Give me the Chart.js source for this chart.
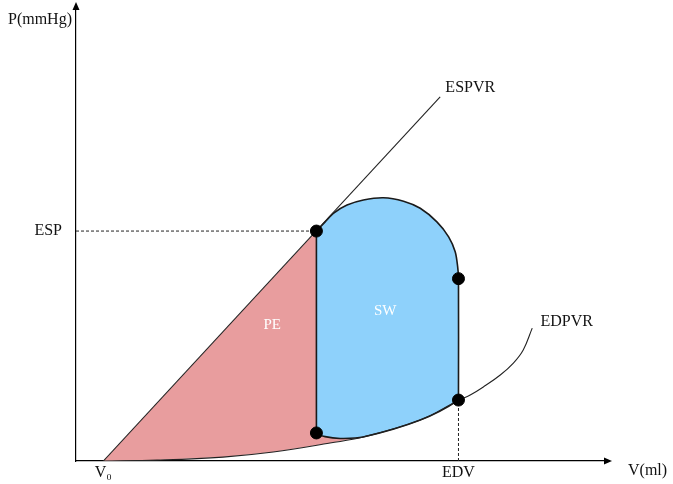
<!DOCTYPE html>
<html>
<head>
<meta charset="utf-8">
<script src="https://cdn.jsdelivr.net/npm/chart.js@4.4.1/dist/chart.umd.min.js"></script>
<style>
  html, body { margin: 0; padding: 0; background: #fff; }
</style>
</head>
<body>
<canvas id="pvLoop" width="673" height="484"></canvas>
<script>
// volume (ml) and pressure (mmHg)
var V0 = 10, ESV = 88, EDV = 140, ESP = 100;

var espvrV = [10, 133.3];
var espvrP = [0, 158.3];

var edpvrV = [10, 29.7, 53.8, 72.2, 93.0, 105.1, 126.0, 139.9, 144.3, 149.1, 155.3, 160.1, 163.7, 167.0];
var edpvrP = [0, 0.4, 1.7, 3.9, 7.8, 10.4, 17.8, 26.3, 28.7, 32.2, 37.4, 42.6, 48.3, 57.8];

var loopV = [88, 91.2, 94.2, 99.2, 105.2, 112.5, 119.9, 126.0, 132.1, 136.4, 138.8, 139.7, 140, 140, 140, 126.0, 105.1, 96.7, 91.2, 88, 88, 88];
var loopP = [100, 104.0, 107.7, 111.3, 113.5, 114.5, 113.0, 109.9, 104.0, 97.5, 91.0, 84.5, 79.3, 29.0, 26.5, 17.8, 10.4, 9.8, 10.6, 12.2, 15.0, 100];

var peV = [10, 88, 88, 91.2, 96.7, 105.1, 93.0, 72.2, 53.8, 29.7, 10];
var peP = [0, 100, 12.2, 10.6, 9.8, 10.4, 7.8, 3.9, 1.7, 0.4, 0];

var dotV = [88, 140, 140, 88];
var dotP = [100, 79.3, 26.5, 12.2];

var xTickValues = [V0, EDV];
var xTickLabels = ['V\u2080', 'EDV'];
var yTickValues = [ESP];
var yTickLabels = ['ESP'];

var noteText = ['ESPVR', 'EDPVR', 'PE', 'SW'];
var noteV = [135.2, 170, 71.8, 113.2];
var noteP = [162.2, 60.4, 59.1, 65.2];

var serif = '"Liberation Serif", "Times New Roman", serif';

function pts(xs, ys) {
  return xs.map(function (v, i) { return {x: v, y: ys[i]}; });
}

// arrows, axis names and the curve/area labels
var overlay = {
  id: 'overlay',
  afterDraw: function (chart) {
    var c = chart.ctx, a = chart.chartArea;
    var sx = chart.scales.x, sy = chart.scales.y;
    c.save();
    c.fillStyle = '#000';
    c.beginPath();
    c.moveTo(a.left, a.top - 6);
    c.lineTo(a.left - 3.5, a.top + 2);
    c.lineTo(a.left + 3.5, a.top + 2);
    c.closePath();
    c.fill();
    c.beginPath();
    c.moveTo(a.right + 6, a.bottom);
    c.lineTo(a.right - 2, a.bottom - 3.5);
    c.lineTo(a.right - 2, a.bottom + 3.5);
    c.closePath();
    c.fill();

    c.font = '16px ' + serif;
    c.fillStyle = '#111';
    c.textBaseline = 'middle';
    c.textAlign = 'right';
    c.fillText('P(mmHg)', a.left - 4, 20);
    c.textAlign = 'left';
    c.fillText('V(ml)', a.right + 22, a.bottom + 10);

    for (var i = 0; i < noteText.length; i++) {
      var inside = i >= 2;
      c.fillStyle = inside ? '#fff' : '#111';
      c.font = (inside ? '15px ' : '16px ') + serif;
      c.textAlign = inside ? 'center' : 'left';
      c.fillText(noteText[i], sx.getPixelForValue(noteV[i]), sy.getPixelForValue(noteP[i]));
    }
    c.restore();
  }
};

var ctx = document.getElementById('pvLoop').getContext('2d');
var pvChart = new Chart(ctx, {
  type: 'scatter',
  data: {
    datasets: [
      {
        label: 'points',
        data: pts(dotV, dotP),
        pointRadius: 6,
        backgroundColor: '#000',
        borderColor: '#000',
        order: 0
      },
      {
        label: 'ESPVR',
        data: pts(espvrV, espvrP),
        showLine: true,
        borderColor: '#222',
        borderWidth: 1.1,
        pointRadius: 0,
        order: 1
      },
      {
        label: 'EDPVR',
        data: pts(edpvrV, edpvrP),
        showLine: true,
        tension: 0.4,
        borderColor: '#222',
        borderWidth: 1.1,
        pointRadius: 0,
        order: 1
      },
      {
        label: 'ESP',
        data: pts([0, ESV], [ESP, ESP]),
        showLine: true,
        borderColor: '#222',
        borderWidth: 1,
        borderDash: [3, 2],
        pointRadius: 0,
        order: 1
      },
      {
        label: 'EDV',
        data: pts([EDV, EDV], [0, 26.5]),
        showLine: true,
        borderColor: '#222',
        borderWidth: 1,
        borderDash: [3, 2],
        pointRadius: 0,
        order: 1
      },
      {
        label: 'SW',
        data: pts(loopV, loopP),
        showLine: true,
        tension: 0.3,
        fill: 'shape',
        backgroundColor: '#8ED1FB',
        borderColor: '#1a1a1a',
        borderWidth: 1.6,
        pointRadius: 0,
        order: 2
      },
      {
        label: 'PE',
        data: pts(peV, peP),
        showLine: true,
        fill: 'shape',
        backgroundColor: '#E89D9E',
        borderWidth: 0,
        borderColor: 'rgba(0,0,0,0)',
        pointRadius: 0,
        order: 3
      }
    ]
  },
  options: {
    responsive: false,
    animation: false,
    layout: { autoPadding: false, padding: { top: 8, right: 67, bottom: 0, left: 0 } },
    plugins: { legend: { display: false }, tooltip: { enabled: false } },
    scales: {
      x: {
        type: 'linear',
        min: 0,
        max: 194,
        grid: { display: false, drawTicks: false },
        border: { display: true, color: '#000', width: 1.2 },
        afterBuildTicks: function (s) { s.ticks = xTickValues.map(function (v) { return {value: v}; }); },
        afterFit: function (s) { s.height = 23; s.paddingLeft = 0; s.paddingRight = 0; },
        ticks: {
          autoSkip: false,
          maxRotation: 0,
          padding: 2,
          color: '#111',
          font: { family: serif, size: 16 },
          callback: function (v) { return xTickLabels[xTickValues.indexOf(v)]; }
        }
      },
      y: {
        type: 'linear',
        min: 0,
        max: 197,
        grid: { display: false, drawTicks: false },
        border: { display: true, color: '#000', width: 1.2 },
        afterBuildTicks: function (s) { s.ticks = yTickValues.map(function (v) { return {value: v}; }); },
        afterFit: function (s) { s.width = 76; s.paddingTop = 0; s.paddingBottom = 0; },
        ticks: {
          autoSkip: false,
          padding: 14,
          color: '#111',
          font: { family: serif, size: 16 },
          callback: function (v) { return yTickLabels[yTickValues.indexOf(v)]; }
        }
      }
    }
  },
  plugins: [overlay]
});
</script>
</body>
</html>
